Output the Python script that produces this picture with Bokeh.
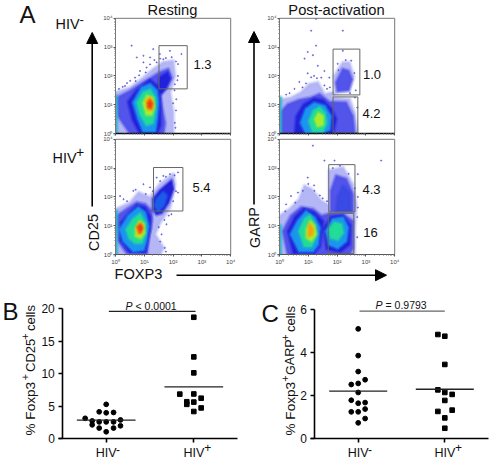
from bokeh.plotting import figure
from bokeh.models import Range1d, LogScale, LinearScale, LinearAxis, LogAxis, FixedTicker, Arrow, NormalHead
from bokeh.core.properties import value
from bokeh.embed import file_html
from bokeh.resources import INLINE

FONT = "Liberation Sans"

# ---- panel A: density contours and sparse events, in decades (log10 of intensity) ----
A1_OUTER = [(0,1.42),(.51,1.59),(.97,1.94),(1.31,2.23),(1.66,2.47),(2.0,2.52),(2.06,2.0),(1.89,1.42),(2.0,.72),(2.0,0),(0,0)]
A1_SPECK = [(.05,1.24),(.51,1.48),(.91,1.74),(1.25,1.94),(1.54,2.12),(1.83,2.23),(1.94,1.94),(1.77,1.59),(1.54,1.42),(1.6,.95),(1.71,.37),(1.66,0),(.51,0),(.1,.6)]
A1_CORE = [(.45,1.1),(.75,1.5),(1.2,1.85),(1.5,1.6),(1.55,1.0),(1.55,.3),(1.45,.02),(.85,.02),(.6,.5)]
A1_UP_CORE = [(1.5,1.45),(1.55,1.95),(1.8,2.1),(1.88,1.9),(1.72,1.55),(1.6,1.4)]
A1_SKY = [(.62,1.07),(.91,1.59),(1.2,1.71),(1.43,1.48),(1.48,1.07),(1.43,.49),(1.37,.08),(.97,.08),(.8,.49)]
A1_GREEN = [(.76,1.07),(.97,1.42),(1.2,1.51),(1.37,1.24),(1.37,.84),(1.29,.37),(1.08,.31),(.87,.66)]
A1_YELLOW = [(.97,1.07),(1.1,1.3),(1.28,1.24),(1.33,.95),(1.25,.66),(1.08,.66)]
A1_ORANGE = [(1.08,1.13),(1.2,1.24),(1.29,1.07),(1.28,.84),(1.14,.84)]
A1_RED = [(1.14,1.05),(1.2,1.13),(1.26,1.03),(1.22,.9),(1.15,.92)]
A1_EDGE = [(0,0),(.04,0),(.04,1.3),(0,1.3)]
A1_DOTS = [(.56,3.05),(.74,2.64),(.97,2.7),(.97,2.47),(1.2,2.64),(1.31,2.93),(1.54,2.76),(1.89,2.87),(2.29,2.76),(2.17,2.41),(1.66,2.58),(1.08,2.29),(.85,2.17),(.68,1.94),(.51,1.83),(.33,1.65),(1.43,2.47),(2.06,1.71),(2.17,2.0),(2.11,1.19),(2.06,.37),
           (1.2,2.4),(1.35,2.55),(1.55,2.6),(1.75,2.62),(1.95,2.65),(2.1,2.5),(2.15,1.85),(2.05,1.5),(2.0,1.05),(2.1,.8),(2.08,.2),(.25,1.62),(.4,1.75),(.7,1.82),(.82,2.02),(1.05,2.12),(.12,1.55)]

A2_OUTER = [(0,1.16),(.4,1.24),(.75,1.42),(1.04,1.71),(1.33,1.77),(1.56,1.36),(1.88,1.42),(1.86,1.24),(2.43,1.19),(2.6,.72),(2.69,.05),(0,0)]
A2_UPPER_OUTER = [(1.95,1.42),(1.9,1.99),(2.2,2.46),(2.42,2.46),(2.57,1.99),(2.42,1.48)]
A2_SPECK = [(.03,.72),(.29,1.01),(.69,1.16),(1.1,1.24),(1.39,1.36),(1.73,1.09),(2.31,1.07),(2.54,.6),(2.6,.02),(.06,.02)]
A2_CORE = [(.55,.02),(.6,.6),(.85,1.0),(1.2,1.2),(1.5,1.15),(1.8,.85),(1.95,.5),(1.85,.02)]
A2_UPPER = [(2.02,1.48),(1.97,1.77),(2.2,2.23),(2.39,2.17),(2.51,1.88),(2.39,1.51)]
A2_SKY = [(.75,.37),(.92,.84),(1.21,1.05),(1.56,.95),(1.77,.6),(1.73,.14),(1.45,.02),(.92,.02)]
A2_GREEN = [(1.04,.43),(1.19,.78),(1.39,.9),(1.56,.72),(1.62,.37),(1.5,.08),(1.16,.08)]
A2_YELLOW = [(1.24,.49),(1.35,.7),(1.5,.6),(1.5,.31),(1.33,.26)]
A2_EDGE = [(0,0),(.04,0),(.04,1.25),(0,1.25)]
A2_DOTS = [(1.27,3.05),(1.1,3.57),(1.27,3.98),(.98,2.83),(.87,2.6),(1.16,2.72),(1.33,2.35),(2.2,3.57),(2.2,2.87),(2.49,2.53),(1.56,2.17),(1.73,1.94),(.52,1.55),(.69,1.79),(.98,2.09),(1.45,1.94),(.23,1.35),(1.56,1.67),(.92,1.74),
           (1.1,1.95),(1.2,2.0),(1.3,1.92),(.8,1.6),(.35,1.4),(1.65,1.55),(1.75,1.6),(2.05,2.2),(2.3,2.55),(2.6,2.1),(2.65,1.5),(2.62,1.25),(2.7,.9),(2.02,2.42),(2.45,1.4)]

B1_OUTER = [(.02,1.57),(.51,1.8),(.8,2.15),(1.2,1.98),(1.54,2.44),(2.0,2.79),(2.06,2.44),(1.89,1.63),(1.54,1.1),(1.37,.7),(1.66,.23),(1.54,0),(0,0)]
B1_SPECK = [(.05,1.34),(.39,1.57),(.74,1.8),(1.02,1.74),(1.25,1.51),(1.25,1.16),(1.14,.64),(1.08,.06),(.39,.06),(.1,.47)]
B1_CORE = [(.2,1.1),(.45,1.4),(.75,1.7),(1.02,1.62),(1.2,1.3),(1.2,.9),(1.1,.4),(1.03,.08),(.5,.08),(.18,.5)]
B1_UPPER = [(1.31,1.57),(1.31,1.92),(1.54,2.21),(1.94,2.56),(2.0,2.27),(1.83,1.8),(1.6,1.45),(1.43,1.4)]
B1_UPPER_CORE = [(1.37,1.69),(1.43,1.92),(1.66,2.15),(1.77,2.03),(1.66,1.69),(1.48,1.51)]
B1_SKY = [(.16,.87),(.45,1.34),(.79,1.63),(1.02,1.45),(1.14,.99),(1.06,.47),(.97,.17),(.62,.12),(.28,.47)]
B1_GREEN = [(.39,.87),(.62,1.22),(.85,1.4),(1.02,1.1),(1.02,.7),(.91,.41),(.68,.41),(.48,.58)]
B1_YELLOW = [(.71,.87),(.85,1.14),(.97,1.05),(1.0,.76),(.87,.58),(.71,.64)]
B1_ORANGE = [(.74,.95),(.85,1.09),(.94,.95),(.91,.76),(.79,.72)]
B1_RED = [(.79,.95),(.87,1.02),(.92,.91),(.85,.79)]
B1_EDGE = [(0,0),(.04,0),(.04,1.5),(0,1.5)]
B1_DOTS = [(.16,2.03),(.62,2.21),(1.2,2.33),(.97,2.44),(1.43,2.67),(2.17,2.85),(1.89,2.79),(1.66,2.73),(2.17,2.15),(1.94,1.4),(1.77,1.05),(1.6,.7),(1.71,.23),(.28,1.92),
           (1.05,2.1),(1.3,2.2),(1.55,2.55),(1.75,2.7),(2.05,2.75),(2.1,2.2),(2.0,1.85),(1.85,1.35),(1.7,1.2),(1.5,.95),(1.55,.45),(1.75,.1),(.4,1.85),(.7,2.25)]

B2_OUTER = [(0,1.34),(.35,1.57),(.69,1.92),(.87,2.38),(1.1,2.27),(1.45,1.86),(1.73,1.69),(1.73,2.91),(2.2,3.02),(2.54,2.44),(2.66,1.74),(2.6,.81),(2.6,0),(0,0)]
B2_SPECK = [(.12,.81),(.4,1.34),(.75,1.63),(1.16,1.57),(1.45,1.34),(1.73,1.4),(2.2,1.4),(2.54,1.16),(2.54,.23),(2.43,.02),(.29,.02)]
B2_CORE = [(.3,.8),(.55,1.3),(.85,1.58),(1.2,1.45),(1.5,1.15),(1.4,.3),(1.2,.05),(.5,.05)]
B2_CORE_R = [(1.55,.9),(1.8,1.3),(2.2,1.35),(2.45,1.0),(2.42,.35),(2.1,.1),(1.65,.2)]
B2_UPPER = [(1.79,1.51),(1.79,2.21),(1.97,2.73),(2.31,2.62),(2.54,2.09),(2.54,1.51)]
B2_UPPER_CORE = [(1.97,1.51),(2.03,1.98),(2.2,2.38),(2.43,2.15),(2.46,1.51)]
B2_SKY = [(.4,.7),(.64,1.16),(.92,1.49),(1.21,1.28),(1.39,.93),(1.33,.35),(1.16,.12),(.69,.12)]
B2_SKY_R = [(1.62,.81),(1.85,1.22),(2.2,1.28),(2.37,.93),(2.31,.47),(2.02,.23),(1.73,.35)]
B2_GREEN = [(.69,.81),(.87,1.22),(1.04,1.34),(1.21,1.05),(1.24,.58),(1.1,.29),(.87,.29)]
B2_GREEN_R = [(1.73,.87),(1.91,1.1),(2.14,1.05),(2.2,.76),(2.02,.52),(1.79,.58)]
B2_YELLOW = [(.95,.87),(1.08,1.14),(1.21,.99),(1.27,.7),(1.1,.49),(.95,.58)]
B2_ORANGE = [(1.02,.87),(1.04,1.05),(1.16,.87),(1.13,.7),(1.02,.64)]
B2_EDGE = [(0,0),(.04,0),(.04,1.0),(0,1.0)]
B2_DOTS = [(.98,2.67),(.81,2.21),(.64,2.15),(.4,2.03),(.23,1.74),(1.21,2.21),(1.56,3.26),(1.16,3.78),(3.53,3.26),(1.91,3.26),(2.72,2.79),(2.72,1.63),
           (1.0,2.45),(1.2,2.4),(1.4,2.05),(1.5,1.95),(.55,1.8),(.2,1.5),(1.85,3.0),(2.1,3.08),(2.4,2.8),(2.62,2.3),(2.72,2.0),(2.7,1.3),(2.7,.6),(1.65,1.85)]

# gates: (x0, x1, y0, y1) in decades
A1_GATES = [(1.51,2.49,1.55,3.05)]
A2_GATES = [(1.86,2.79,1.34,2.93),(1.86,2.72,.02,1.27)]
B1_GATES = [(1.32,2.34,1.51,3.02)]
B2_GATES = [(1.71,2.62,1.48,3.12),(1.69,2.58,.03,1.43)]

# ---- panels B and C ----
TICK_LABELS = {1: "HIV", 2: "HIV"}
B_NEG_X = [1,.92,1,1.084,.76,.84,.92,1,1.084,1.163,.84,1.163,.92,1.084,1]
B_NEG_Y = [5.3,4.15,4.0,4.05,3.15,2.75,2.6,2.6,2.6,2.9,2.15,2.0,1.65,1.65,1.08]
B_POS_X = [2,2,2,1.84,2,2.084,1.92,2,1.92,2.084,2]
B_POS_Y = [18.7,12.6,10.15,6.87,6.9,6.25,5.7,5.65,5.3,4.75,4.2]
B_MEANS = [2.87,7.98]
C_NEG_X = [1,1,1,1.08,.92,1,1,.92,1,1.08,1.08,.92,1,1.08,1]
C_NEG_Y = [5.1,3.86,3.12,2.74,2.52,2.57,2.15,1.79,1.65,1.68,1.38,1.25,1.25,.94,.74]
C_POS_X = [1.92,2,2,1.92,2,2.085,2,2.085,1.92,2,2]
C_POS_Y = [4.84,4.76,3.45,2.27,2.15,2.06,1.78,1.33,1.27,.97,.49]
C_MEANS = [2.21,2.30]

LEVELS = {"outer":"#b4b6f5","speck":"#5254ea","edge":"#30b4c8","blue":"#2222dc","mid":"#3a4ae4","core":"#1c5ce8","sky":"#1a96ee","green":"#22dc98","yellow":"#a8ec30","orange":"#f4a410","red":"#f04010"}
PANELS = {
 "a1": dict(left=115, bottom=133, labels=False, gates=A1_GATES, dots=A1_DOTS,
            polys=[("outer",A1_OUTER),("speck",A1_SPECK),("blue",A1_CORE),("blue",A1_UP_CORE),("edge",A1_EDGE),("sky",A1_SKY),("green",A1_GREEN),("yellow",A1_YELLOW),("orange",A1_ORANGE),("red",A1_RED)]),
 "a2": dict(left=279, bottom=133, labels=False, gates=A2_GATES, dots=A2_DOTS,
            polys=[("outer",A2_OUTER),("outer",A2_UPPER_OUTER),("speck",A2_SPECK),("blue",A2_CORE),("edge",A2_EDGE),("speck",A2_UPPER),("sky",A2_SKY),("green",A2_GREEN),("yellow",A2_YELLOW)]),
 "b1": dict(left=115, bottom=254, labels=True, gates=B1_GATES, dots=B1_DOTS,
            polys=[("outer",B1_OUTER),("speck",B1_SPECK),("blue",B1_CORE),("edge",B1_EDGE),("blue",B1_UPPER),("core",B1_UPPER_CORE),("sky",B1_SKY),("green",B1_GREEN),("yellow",B1_YELLOW),("orange",B1_ORANGE),("red",B1_RED)]),
 "b2": dict(left=279, bottom=254, labels=True, gates=B2_GATES, dots=B2_DOTS,
            polys=[("outer",B2_OUTER),("speck",B2_UPPER),("mid",B2_UPPER_CORE),("speck",B2_SPECK),("blue",B2_CORE),("blue",B2_CORE_R),("edge",B2_EDGE),("sky",B2_SKY),("sky",B2_SKY_R),("green",B2_GREEN),("green",B2_GREEN_R),("yellow",B2_YELLOW),("orange",B2_ORANGE)]),
}
W, H = 490, 460
DEC = 28.8

p = figure(width=W, height=H, x_range=Range1d(0, W), y_range=Range1d(H, 0), min_border=0,
           x_axis_location=None, y_axis_location=None, toolbar_location=None, output_backend="svg",
           outline_line_color=None, margin=(0, 0, 0, 0))
p.xgrid.visible = False
p.ygrid.visible = False

DECADE_TICKS = [1, 10, 100, 1000, 10000]
MINOR = [m * d for d in DECADE_TICKS[:-1] for m in range(2, 10)]
EXP = {1: "10\u2070", 10: "10\u00b9", 100: "10\u00b2", 1000: "10\u00b3", 10000: "10\u2074"}

def flow_panel(name, cfg):
    xn, yn = name + "x", name + "y"
    p.extra_x_ranges[xn] = Range1d(10 ** (-cfg["left"] / DEC), 10 ** ((W - cfg["left"]) / DEC))
    p.extra_y_ranges[yn] = Range1d(10 ** (-(H - cfg["bottom"]) / DEC), 10 ** (cfg["bottom"] / DEC))
    p.extra_x_scales[xn] = LogScale()
    p.extra_y_scales[yn] = LogScale()
    kw = dict(x_range_name=xn, y_range_name=yn)
    for lev, poly in cfg["polys"]:
        xs, ys = [10 ** a for a, _ in poly], [10 ** b for _, b in poly]
        c = LEVELS[lev]
        # soft, rounded fringe around each density level
        p.patch(xs, ys, fill_color=c, fill_alpha=1, line_color=c, line_alpha=.3, line_width=5, line_join="round", **kw)
        p.patch(xs, ys, fill_color=None, line_color=c, line_alpha=.6, line_width=2.2, line_join="round", **kw)
    d = cfg["dots"]
    p.scatter([10 ** a for a, _ in d], [10 ** b for _, b in d], size=1.2, color="#5050dc", alpha=.7, **kw)
    # white bands keep the fringes from running over the tick area
    p.quad(left=[10 ** -.2, 1], right=[1, 1e4], bottom=[1, 10 ** -.15], top=[1e4, 1], fill_color="white", line_color=None, **kw)
    g = cfg["gates"]
    p.quad(left=[10 ** q[0] for q in g], right=[10 ** q[1] for q in g], bottom=[10 ** q[2] for q in g], top=[10 ** q[3] for q in g],
           fill_color=None, line_color="#666666", line_width=1, **kw)
    p.quad(left=[1], right=[1e4], bottom=[1], top=[1e4], fill_color=None, line_color="#777777", line_width=1, **kw)
    yax = LogAxis(ticker=FixedTicker(ticks=DECADE_TICKS, minor_ticks=MINOR), bounds=(1, 1e4), fixed_location=1, major_label_overrides=EXP,
                  major_label_text_font_size="6px", major_label_text_color="#444444", major_label_text_font=FONT,
                  major_label_standoff=1, major_tick_out=2, major_tick_in=0, minor_tick_out=1, minor_tick_in=0,
                  axis_line_color="#777777", major_tick_line_color="#555555", minor_tick_line_color="#777777", **kw)
    xax = LogAxis(ticker=FixedTicker(ticks=DECADE_TICKS, minor_ticks=MINOR), bounds=(1, 1e4), fixed_location=1,
                  major_label_overrides=EXP, major_label_text_font_size="6px", major_label_text_font=FONT,
                  major_label_text_color="#444444" if cfg["labels"] else None,
                  major_label_standoff=2, major_tick_out=2, major_tick_in=0, minor_tick_out=1, minor_tick_in=0,
                  axis_line_color="#111111" if not cfg["labels"] else "#555555", axis_line_width=1.5 if not cfg["labels"] else 1,
                  major_tick_line_color="#555555", minor_tick_line_color="#777777", **kw)
    p.add_layout(yax, "left")
    p.add_layout(xax, "below")

for n, c in PANELS.items():
    flow_panel(n, c)

def scatter_panel(name, axis_px, y_zero, y_unit, x1_px, x_unit, ymax, yticks, right_px, neg, pos, means, line_y, line_x, line_color):
    xn, yn = name + "x", name + "y"
    xv = lambda px: 1 + (px - x1_px) / x_unit
    p.extra_x_ranges[xn] = Range1d(xv(0), xv(W))
    p.extra_y_ranges[yn] = Range1d(-(H - y_zero) / y_unit, y_zero / y_unit)
    p.extra_x_scales[xn] = LinearScale()
    p.extra_y_scales[yn] = LinearScale()
    kw = dict(x_range_name=xn, y_range_name=yn)
    p.scatter(neg[0], neg[1], marker="circle", size=4.8, color="black", **kw)
    p.scatter(pos[0], pos[1], marker="square", size=4.6, color="black", **kw)
    p.segment([1 - .335, 2 - .335], means, [1 + .335, 2 + .335], means, line_color="#222222", line_width=1.3, **kw)
    p.segment([line_x[0]], [line_y], [line_x[1]], [line_y], line_color=line_color, line_width=1.3, **kw)
    yax = LinearAxis(ticker=FixedTicker(ticks=yticks), bounds=(0, ymax), fixed_location=xv(axis_px),
                     major_label_text_font_size="12px", major_label_text_font=FONT, major_label_text_color="#111111",
                     major_label_standoff=4, major_tick_out=4, major_tick_in=0, axis_line_width=1.6, major_tick_line_width=1.6,
                     minor_tick_line_color=None, **kw)
    xax = LinearAxis(ticker=FixedTicker(ticks=[1, 2]), bounds=(xv(axis_px - 4), xv(right_px)), fixed_location=0,
                     major_label_overrides=TICK_LABELS, major_label_text_font_size="12.5px", major_label_text_font=FONT,
                     major_label_text_color="#111111", major_label_standoff=3, major_tick_out=4, major_tick_in=0,
                     axis_line_width=1.6, major_tick_line_width=1.6, minor_tick_line_color=None, **kw)
    p.add_layout(yax, "left")
    p.add_layout(xax, "below")

scatter_panel("sb", 62.3, 438.3, 6.5, 105.7, 87.6, 20, [0, 5, 10, 15, 20], 237,
              (B_NEG_X, B_NEG_Y), (B_POS_X, B_POS_Y), B_MEANS, 19.6, (1.03, 2.02), "#222222")
scatter_panel("sc", 314.3, 438.3, 21.55, 357.7, 86.6, 6, [0, 2, 4, 6], 488,
              (C_NEG_X, C_NEG_Y), (C_POS_X, C_POS_Y), C_MEANS, 5.92, (1.015, 2.0), "#666666")

UP = 1.5708
def txt(x, y, s, size, align="center", angle=0, style="normal", color="#111111"):
    p.text([x], [y], text=[s], text_font=value(FONT), text_font_size=f"{size}px", text_align=align,
           text_baseline="middle", angle=angle, text_font_style=style, text_color=color)

txt(19, 14, "A", 24, "left")
txt(2, 311, "B", 24, "left")
txt(261, 313, "C", 24, "left")
txt(172, 9, "Resting", 14.7)
txt(336, 9, "Post-activation", 14.7)
txt(55, 23, "HIV", 14.4, "left")
txt(79, 19, "-", 13, "left")
txt(52, 157, "HIV", 14.4, "left")
txt(75.5, 151, "+", 14, "left")
txt(202, 64, "1.3", 13)
txt(371.5, 74, "1.0", 13)
txt(371, 113, "4.2", 13)
txt(201, 187, "5.4", 13)
txt(371, 189, "4.3", 13)
txt(370, 232, "16", 13)
txt(93, 232, "CD25", 14.4, angle=UP)
txt(254, 227, "GARP", 14.4, angle=UP)
txt(138, 273, "FOXP3", 14.6)
# rotated axis titles with their superscripts
txt(30, 435, "% Foxp3", 13.6, "left", UP)
txt(24.5, 376.5, "+", 11, angle=UP)
txt(30, 371.5, "CD25", 13, "left", UP)
txt(24.5, 336, "+", 11, angle=UP)
txt(30, 330.5, "cells", 13, "left", UP)
txt(290, 435, "% Foxp3", 13.6, "left", UP)
txt(284.5, 378, "+", 11, angle=UP)
txt(290, 374.5, "GARP", 12.6, "left", UP)
txt(284.5, 337, "+", 11, angle=UP)
txt(290, 331.5, "cells", 13, "left", UP)
# superscripts of the group labels
txt(117.5, 449, "-", 12)
txt(207.3, 447, "+", 12)
txt(369.5, 449, "-", 12)
txt(458, 447, "+", 12)
txt(125, 305.5, "P", 10.5, "left", style="italic")
txt(135, 305.5, "< 0.0001", 10.5, "left")
txt(375, 304.5, "P", 10.5, "left", style="italic")
txt(385, 304.5, "= 0.9793", 10.5, "left")

for xs, ys, xe, ye in [(91.7, 206, 91.7, 32), (253.5, 204, 253.5, 31), (176, 274.7, 386, 274.7)]:
    p.add_layout(Arrow(end=NormalHead(size=11, fill_color="black", line_color="black"), line_width=1.6,
                       x_start=xs, y_start=ys, x_end=xe, y_end=ye, line_color="black"))

open("out.html", "w").write(file_html(p, INLINE))
